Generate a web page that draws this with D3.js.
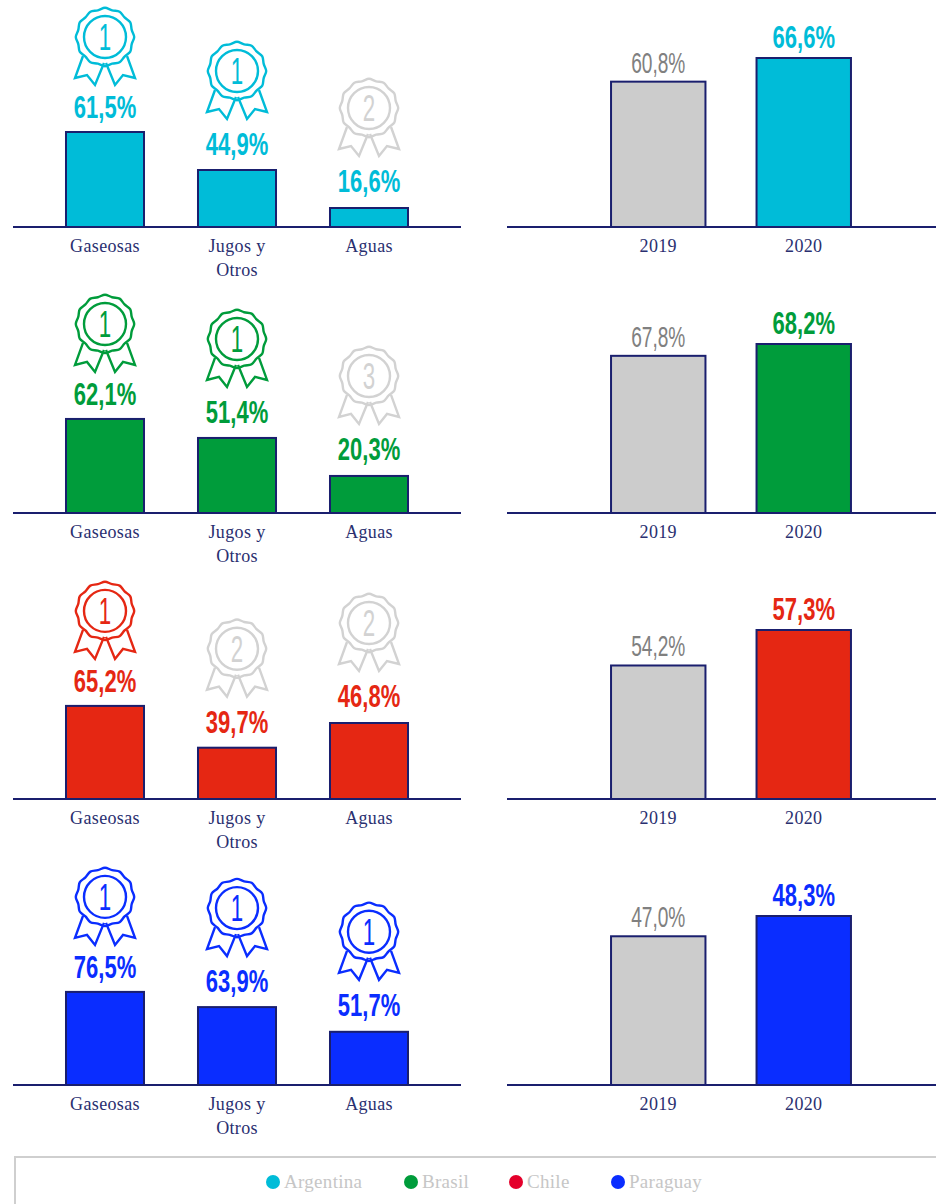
<!DOCTYPE html>
<html>
<head>
<meta charset="utf-8">
<script src="https://cdn.jsdelivr.net/npm/d3@7"></script>
<style>
  html, body { margin: 0; padding: 0; background: #fff; overflow: hidden; }
  .cat { font-family: "Liberation Serif", serif; font-size: 18px; fill: #2a2f70; letter-spacing: .35px; }
  .val { font-family: "Liberation Sans Narrow", "Liberation Sans", sans-serif; }
  .legend-text { font-family: "Liberation Serif", serif; font-size: 19px; fill: #c6c6c6; letter-spacing: .3px; }
</style>
</head>
<body>
<div id="chart"></div>
<script>
var countries = ["Argentina", "Brasil", "Chile", "Paraguay"]
var colors = ["#00bcd8", "#009c3b", "#e52713", "#0a2dff"]
var legendColors = ["#00bcd8", "#009c3b", "#e4002b", "#0a2dff"]

var categories = ["Gaseosas", "Jugos y|Otros", "Aguas"]
var years = ["2019", "2020"]

// printed numbers
var catLabels = [
    [61.5, 44.9, 16.6],
    [62.1, 51.4, 20.3],
    [65.2, 39.7, 46.8],
    [76.5, 63.9, 51.7]
]
var catRanks = [
    [1, 1, 2],
    [1, 1, 3],
    [1, 2, 2],
    [1, 1, 1]
]
var yearLabels = [
    [60.8, 66.6],
    [67.8, 68.2],
    [54.2, 57.3],
    [47.0, 48.3]
]
// bar lengths in the picture do not follow the printed numbers,
// so they are read off separately, tallest bar of the panel = 100
var catBars = [
    [100, 60, 20],
    [99, 79, 39],
    [98, 54, 80],
    [98, 82, 56]
]
var yearBars = [
    [86, 100],
    [93, 100],
    [79, 100],
    [88, 100]
]

var navy = "#1a1f6e"
var grey = "#cccccc"
var baselines = [227, 513, 799, 1085]
var iconGap = [95, 99, 100]
var labelGap = [14, 15, 16]
var fmt = function(v) { return v.toFixed(1).replace(".", ",") + "%" }

var svg = d3.select("#chart").append("svg")
    .attr("width", 936)
    .attr("height", 1204)
    .style("display", "block")

var xCat = d3.scaleBand().domain(categories).range([39, 435]).paddingInner(0.409).paddingOuter(0.2045)
var xYear = d3.scaleBand().domain(years).range([585.5, 876.5]).paddingInner(0.351).paddingOuter(0.1755)
var yCat = d3.scaleLinear().domain([0, 100]).range([0, -95])
var yYear = d3.scaleLinear().domain([0, 100]).range([0, -169])
var legendX = d3.scaleOrdinal().domain(countries).range([273, 411, 516, 618])

function valueText(g, x, y, text, color, bold) {
    g.append("text")
        .attr("class", "val")
        .attr("transform", "translate(" + x + "," + y + ") scale(" + (bold ? 0.71 : 0.66) + ",1)")
        .attr("text-anchor", "middle")
        .attr("font-size", bold ? 31 : 29)
        .attr("font-weight", bold ? 700 : 400)
        .attr("fill", color)
        .text(text)
}

function axis(g, scale, x1, x2) {
    g.append("line")
        .attr("x1", x1).attr("x2", x2)
        .attr("stroke", navy).attr("stroke-width", 2)

    var a = g.append("g").call(d3.axisBottom(scale).tickSize(0).tickPadding(0))
    a.select(".domain").remove()
    a.selectAll("text").each(function(d) {
        var t = d3.select(this).attr("class", "cat").attr("fill", null).attr("dy", null)
        t.text(null)
        d.split("|").forEach(function(part, i) {
            t.append("tspan").attr("x", 0).attr("y", 25 + i * 24).text(part)
        })
    })
}

// ribbon outline relative to the rosette centre
var ribbon = [[-22, 19], [-30, 41], [-18, 38], [-10, 48], [-1, 26]]
var waveAngles = d3.range(0, 24).map(function(i) { return i * Math.PI / 12 })
var wave = d3.lineRadial()
    .angle(function(a) { return a })
    .radius(function(a, i) { return i % 2 ? 26.5 : 31 })
    .curve(d3.curveBasisClosed)

function rosette(g, cx, cy, rank, color) {
    var r = g.append("g")
        .attr("transform", "translate(" + cx + "," + cy + ")")
        .attr("fill", "none")
        .attr("stroke", color)
        .attr("stroke-width", 2.4)
    r.append("path").attr("d", wave(waveAngles))
    r.append("circle").attr("r", 21)
    var line = d3.line()
    r.append("path").attr("d", line(ribbon))
    r.append("path").attr("d", line(ribbon.map(function(p) { return [-p[0], p[1]] })))
    r.append("text")
        .attr("class", "val")
        .attr("transform", "translate(0,13) scale(0.62,1)")
        .attr("text-anchor", "middle")
        .attr("font-size", 36)
        .attr("fill", color)
        .attr("stroke", "none")
        .text(rank)
}

countries.forEach(function(country, c) {
    var row = svg.append("g").attr("transform", "translate(0," + baselines[c] + ")")
    var color = colors[c]

    categories.forEach(function(cat, i) {
        var top = yCat(catBars[c][i])
        var mid = xCat(cat) + xCat.bandwidth() / 2
        var rank = catRanks[c][i]
        row.append("rect")
            .attr("x", xCat(cat))
            .attr("y", top)
            .attr("width", xCat.bandwidth())
            .attr("height", -top)
            .attr("fill", color)
            .attr("stroke", navy)
            .attr("stroke-width", 2)
        valueText(row, mid, top - labelGap[i], fmt(catLabels[c][i]), color, true)
        rosette(row, mid, top - iconGap[i], rank, rank == 1 ? color : "#d2d2d2")
    })

    years.forEach(function(yr, i) {
        var top = yYear(yearBars[c][i])
        var mid = xYear(yr) + xYear.bandwidth() / 2
        row.append("rect")
            .attr("x", xYear(yr))
            .attr("y", top)
            .attr("width", xYear.bandwidth())
            .attr("height", -top)
            .attr("fill", i == 0 ? grey : color)
            .attr("stroke", navy)
            .attr("stroke-width", 2)
        valueText(row, mid, top - (i == 0 ? 9 : 10), fmt(yearLabels[c][i]), i == 0 ? "#808080" : color, i == 1)
    })

    axis(row, xCat, 13, 461)
    axis(row, xYear, 507, 936)
})

// legend box runs off the page on the right and bottom
svg.append("path")
    .attr("d", "M15,1204V1157H936")
    .attr("fill", "none")
    .attr("stroke", "#cfcfcf")
    .attr("stroke-width", 2)

countries.forEach(function(country, i) {
    svg.append("circle")
        .attr("cx", legendX(country)).attr("cy", 1182).attr("r", 7)
        .attr("fill", legendColors[i])
    svg.append("text")
        .attr("class", "legend-text")
        .attr("x", legendX(country) + 11).attr("y", 1188)
        .text(country)
})
</script>
</body>
</html>
